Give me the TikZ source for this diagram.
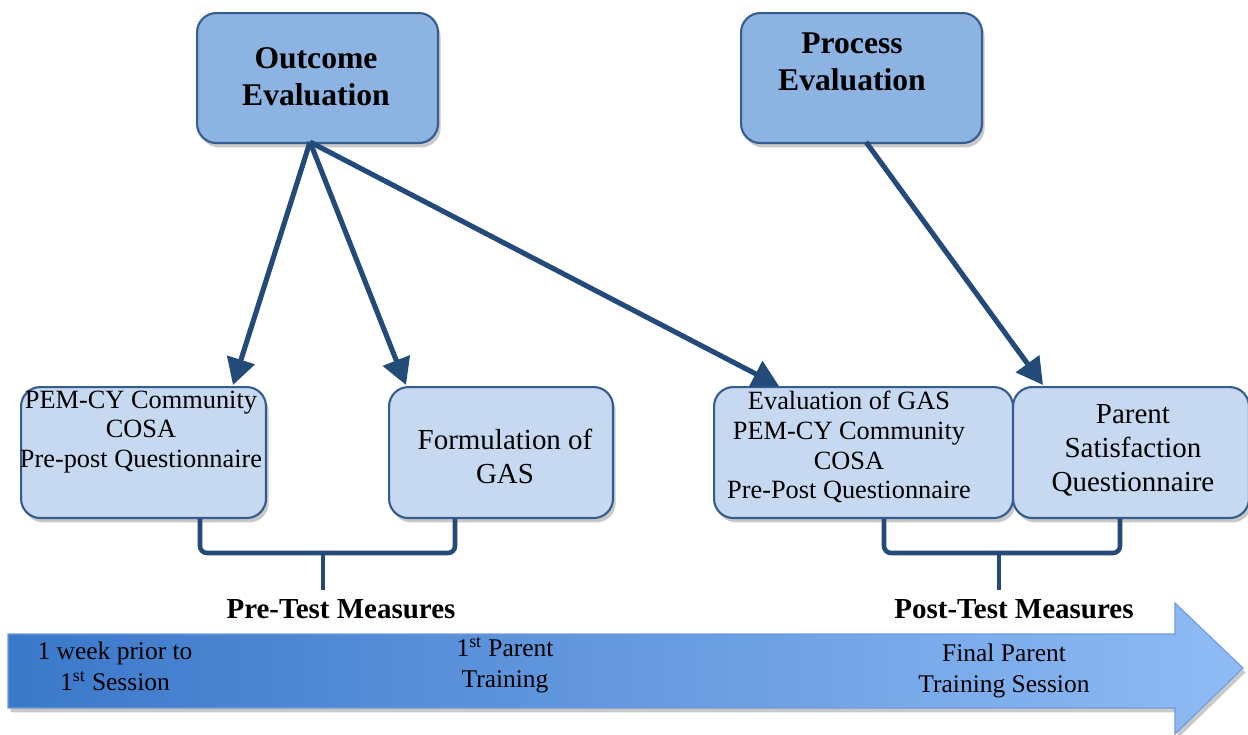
\documentclass[tikz,border=0pt]{standalone}
\usepackage{fontspec}
\setmainfont{Liberation Serif}
\usetikzlibrary{arrows.meta,shadows}
\definecolor{dkfill}{RGB}{141,179,226}
\definecolor{ltfill}{RGB}{198,217,241}
\definecolor{bord}{RGB}{52,92,142}
\definecolor{arrc}{RGB}{36,74,122}
\definecolor{tlL}{RGB}{58,120,201}
\definecolor{tlR}{RGB}{143,187,245}
\definecolor{tlB}{RGB}{110,155,220}
\begin{document}
\begin{tikzpicture}[x=0.02cm,y=-0.02cm,
  box/.style={draw=bord,line width=1.2pt,rounded corners=11pt,inner sep=0pt,anchor=north west,
    drop shadow={shadow xshift=1.5pt,shadow yshift=-2.5pt,opacity=0.3,fill=black!70}},
  bigbox/.style={box,fill=dkfill,minimum width=4.82cm,minimum height=2.6cm},
  smallbox/.style={box,fill=ltfill,minimum height=2.62cm},
  bigtxt/.style={font=\fontsize{18}{21}\selectfont\bfseries,align=center,inner sep=0pt},
  txtA/.style={font=\fontsize{15}{17}\selectfont,align=center,inner sep=0pt},
  txtB/.style={font=\fontsize{16.5}{19.3}\selectfont,align=center,inner sep=0pt},
  arr/.style={draw=arrc,line width=2.9pt,-{Triangle[length=15pt,width=16pt]}},
  bracestyle/.style={draw=arrc,line width=2.6pt,rounded corners=4pt},
  lbl/.style={font=\fontsize{16.5}{18}\selectfont\bfseries,inner sep=0pt},
  tl/.style={font=\fontsize{14.5}{17.8}\selectfont,align=center,inner sep=0pt}]
\useasboundingbox (0,0) rectangle (1248,734);

% timeline arrow
\path[drop shadow={shadow xshift=1.5pt,shadow yshift=-2.5pt,opacity=0.3,fill=black!70},
  left color=tlL,right color=tlR,draw=tlB,line width=0.6pt]
  (8,634) -- (1175,634) -- (1175,603) -- (1243,668) -- (1175,734) -- (1175,708) -- (8,708) -- cycle;
\node[tl] (t1) at (115,666) {1 week prior to\\1\textsuperscript{st} Session};
\node[tl] (t2) at (505,665) {1\textsuperscript{st} Parent\\Training};
\node[tl] (t3) at (1004,671) {Final Parent\\Training Session};

% top boxes
\node[bigbox] (out) at (196,12) {};
\node[bigtxt] (outT) at (316,77) {Outcome\\Evaluation};
\node[bigbox] (proc) at (740,12) {};
\node[bigtxt] (procT) at (852,62) {Process\\Evaluation};

% lower boxes
\node[smallbox,minimum width=4.9cm] (pem) at (20,386) {};
\node[txtA] (pemT) at (141,432) {PEM-CY Community\\COSA\\Pre-post Questionnaire};
\node[smallbox,minimum width=4.48cm] (form) at (388,386) {};
\node[txtB] (formT) at (505,456) {Formulation of\\GAS};
\node[smallbox,minimum width=5.98cm] (evg) at (713,386) {};
\node[txtA] (evgT) at (849,447) {Evaluation of GAS\\PEM-CY Community\\COSA\\Pre-Post Questionnaire};
\node[smallbox,minimum width=4.72cm] (sat) at (1012,386) {};
\node[txtB] (satT) at (1133,450) {Parent\\Satisfaction\\Questionnaire};

% arrows
\coordinate (oS) at (310,142);
\coordinate (pS) at (866,142);
\coordinate (e1) at (233,385);
\coordinate (e2) at (406,385);
\coordinate (e3) at (779,386);
\coordinate (e4) at (1043,385);
\draw[arr] (oS) -- (e1);
\draw[arr] (oS) -- (e2);
\draw[arr] (oS) -- (e3);
\draw[arr] (pS) -- (e4);

% braces
\coordinate (b1) at (323,590);
\coordinate (b2) at (999,590);
\draw[bracestyle] (200,519) -- (200,553) -- (455,553) -- (455,519);
\draw[bracestyle] (323,553) -- (b1);
\draw[bracestyle] (884,519) -- (884,553) -- (1120,553) -- (1120,519);
\draw[bracestyle] (999,553) -- (b2);

\node[lbl] (pre) at (341,609) {Pre-Test Measures};
\node[lbl] (post) at (1014,609) {Post-Test Measures};
\end{tikzpicture}
\end{document}
